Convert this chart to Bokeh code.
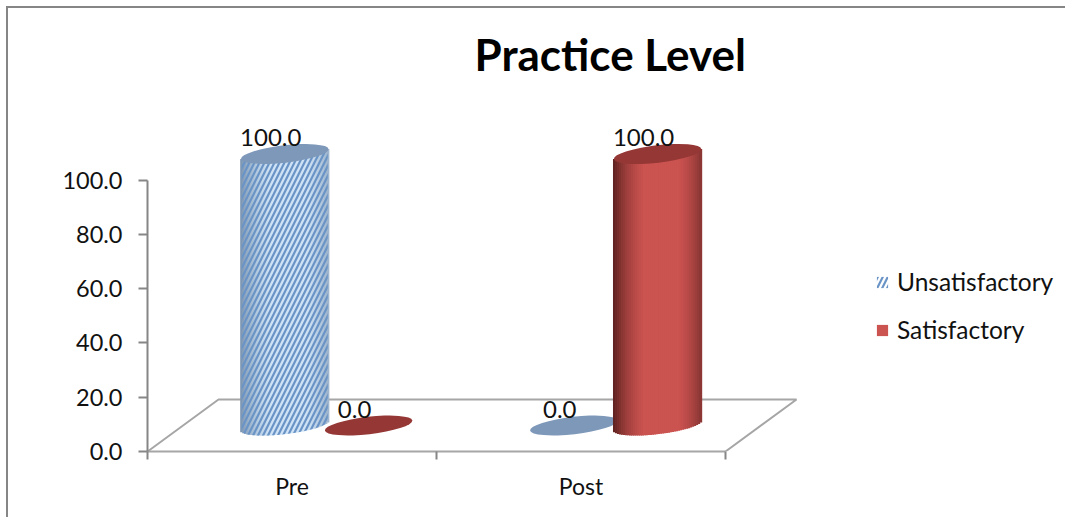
import math
from bokeh.plotting import figure
from bokeh.models import ColumnDataSource, FixedTicker, Range1d, Legend, LegendItem
from bokeh.core.properties import value
from bokeh.embed import file_html
from bokeh.resources import INLINE

# ---- data
title_text = "Practice Level"
categories = ["Pre", "Post"]
series_names = ["Unsatisfactory", "Satisfactory"]
unsatisfactory = [100.0, 0.0]
satisfactory = [0.0, 100.0]
y_ticks = [0, 20, 40, 60, 80, 100]

# ---- styling / geometry
FONT = "Lato"
GREY = "#868686"
PX_X = 289.0      # pixels per category
PX_Y = 2.715      # pixels per value unit
ORIGIN = 8        # figure origin, after its margin and its 2px border
LEFT, BOTTOM = 147 - ORIGIN, 68
W, H = 1067 - ORIGIN, 519 - ORIGIN
TOP = 95 - ORIGIN
DEPTH = 26.0 / PX_Y     # depth shift of the columns
GROUP = 0.62
SHIFT = [-0.145, 0.145]
A, B, TILT = 44.0, 8.7, 5.0 / 44.0
N = 44

frame_w = W - LEFT
frame_h = H - TOP - BOTTOM
p = figure(width=W, height=H, output_backend="svg", toolbar_location=None,
           x_range=Range1d(0, frame_w / PX_X),
           y_range=Range1d(0, frame_h / PX_Y),
           min_border_left=LEFT, min_border_right=0, min_border_top=TOP, min_border_bottom=BOTTOM,
           margin=(6, 0, 0, 6),
           styles={"border-top": f"2px solid {GREY}", "border-left": f"2px solid {GREY}",
                   "box-sizing": "border-box"})
p.outline_line_color = None
p.grid.visible = False
p.background_fill_color = "white"
p.border_fill_color = "white"

p.title.text = title_text
p.title.text_font = FONT
p.title.text_font_size = "44px"
p.title.text_color = "#000000"
p.title.align = "left"
p.title.offset = 327
p.title.standoff = 32

# axes
xa = p.xaxis[0]
xa.bounds = (0, 2)
xa.ticker = FixedTicker(ticks=[0.5, 1.5], minor_ticks=[0, 1, 2])
xa.major_label_overrides = {0.5: categories[0], 1.5: categories[1]}
xa.major_tick_out = 0
xa.major_tick_in = 0
xa.minor_tick_out = 8
xa.minor_tick_in = 0
xa.minor_tick_line_color = GREY
xa.minor_tick_line_width = 2
xa.axis_line_color = "#A6A6A6"
xa.axis_line_width = 2
xa.major_label_text_font = FONT
xa.major_label_text_font_size = "23px"
xa.major_label_text_color = "#111111"
xa.major_label_standoff = 12

ya = p.yaxis[0]
ya.bounds = (0, max(y_ticks))
ya.ticker = FixedTicker(ticks=y_ticks)
ya.major_label_overrides = {t: f"{t:.1f}" for t in y_ticks}
ya.major_tick_out = 9
ya.major_tick_in = 0
ya.minor_tick_out = 0
ya.major_tick_line_color = GREY
ya.major_tick_line_width = 2
ya.axis_line_color = GREY
ya.axis_line_width = 2
ya.major_label_text_font = FONT
ya.major_label_text_font_size = "23.5px"
ya.major_label_text_color = "#111111"
ya.major_label_standoff = 16

# floor
dx_floor = 71.0 / PX_X
dy_floor = 52.0 / PX_Y
p.multi_line(xs=[[0, dx_floor, 2 + dx_floor, 2]], ys=[[0, dy_floor, dy_floor, 0]],
             line_color="#A6A6A6", line_width=2)

# columns
def mix(c1, c2, t):
    return "#%02x%02x%02x" % tuple(int(round(a + (b - a) * t)) for a, b in zip(c1, c2))

styles = [
    dict(edge=(0x8c, 0xa4, 0xbe), mid=(0xcf, 0xe3, 0xf6), cap="#7e98b9", hatch="#6a94c6"),
    dict(edge=(0x74, 0x2c, 0x2a), mid=(0xcb, 0x53, 0x50), cap="#953735", hatch=None),
]
values = [unsatisfactory, satisfactory]
label_x, label_y, label_t = [], [], []
renderers = []
for s, (vals, st) in enumerate(zip(values, styles)):
    xs, tops, bottoms, colors = [], [], [], []
    out_x, out_y = [], []
    cap_x, cap_y = [], []
    for i, v in enumerate(vals):
        cx = i + GROUP + SHIFT[s]
        cap_x.append(cx)
        cap_y.append(v + DEPTH)
        label_x.append(cx)
        label_y.append(v)
        label_t.append(f"{v:.1f}")
        if v <= 0:
            continue
        upper, lower = [], []
        for k in range(N):
            t = (k + 0.5) / N * 2 - 1
            dx = t * A
            x = cx + dx / PX_X
            top = v + DEPTH + dx * TILT / PX_Y
            bottom = DEPTH + (dx * TILT - B * math.sqrt(1 - t * t)) / PX_Y
            xs.append(x)
            tops.append(top)
            bottoms.append(bottom)
            upper.append((x, top))
            lower.append((x, bottom))
            colors.append(mix(st["edge"], st["mid"], min(1.0, (1 - abs(t - 0.1) ** 2.2) * 1.15)))
        ring = upper + lower[::-1]
        out_x = [q[0] for q in ring]
        out_y = [q[1] for q in ring]
    # strips run left to right so that their overlap stays even; the legend swatch
    # takes its colour from the first row, so the column's centre strip leads
    centre = N // 2
    order = [centre] + [j for j in range(len(xs)) if j != centre]
    src = ColumnDataSource(dict(x=[xs[j] for j in order], top=[tops[j] for j in order],
                                bottom=[bottoms[j] for j in order], color=[colors[j] for j in order]))
    r = p.vbar(x="x", top="top", bottom="bottom", width=2 * A / N / PX_X * 1.6, source=src,
               fill_color="color", line_color=None)
    if st["hatch"]:
        r = p.patch(x=out_x, y=out_y, fill_alpha=0, line_color=None, hatch_pattern="/",
                    hatch_color=st["hatch"], hatch_scale=10, hatch_weight=2.2)
    renderers.append(r)
    p.ellipse(x=cap_x, y=cap_y, width=2 * A, height=2 * B, angle=math.atan(TILT),
              width_units="screen", height_units="screen", fill_color=st["cap"], line_color=None)

# data labels
p.text(x=label_x, y=label_y, text=label_t, text_font=value(FONT), text_font_size="24px",
       text_color="#111111", text_align="center", text_baseline="middle",
       x_offset=-14, y_offset=-42.5)

# legend
legend = Legend(items=[LegendItem(label=n, renderers=[r]) for n, r in zip(series_names, renderers)],
                location=(728, 107), orientation="vertical", background_fill_alpha=0,
                border_line_color=None, padding=0, margin=0, spacing=19,
                glyph_width=14, glyph_height=14, label_standoff=8,
                label_text_font=FONT, label_text_font_size="24.5px", label_text_color="#111111")
p.add_layout(legend, "center")

open("out.html", "w").write(file_html(p, INLINE))
